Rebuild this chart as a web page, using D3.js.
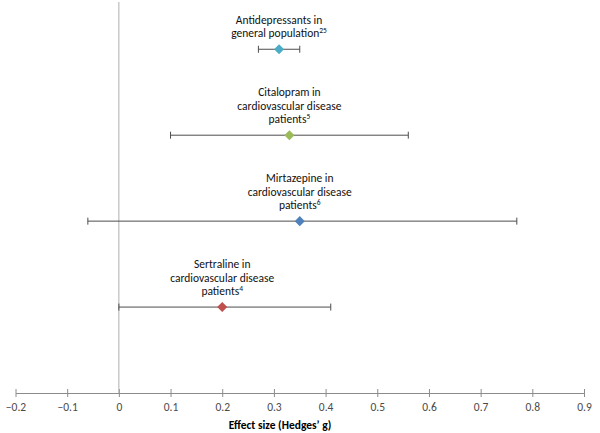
<!DOCTYPE html>
<html><head><meta charset="utf-8">
<script src="https://cdn.jsdelivr.net/npm/d3@7"></script>
<style>body{margin:0;background:#fff}svg{display:block}</style>
</head><body><svg id="c" width="600" height="433"></svg>
<script>
const labels = [
  ["Antidepressants in", "general population", "25"],
  ["Citalopram in", "cardiovascular disease", "patients", "5"],
  ["Mirtazepine in", "cardiovascular disease", "patients", "6"],
  ["Sertraline in", "cardiovascular disease", "patients", "4"]
];
const effect = [0.31, 0.33, 0.35, 0.20];
const lower = [0.27, 0.10, -0.06, 0.00];
const upper = [0.35, 0.56, 0.77, 0.41];
const rowY = [4, 3, 2, 1];
const colors = ["#4BACC6", "#9BBB59", "#4F81BD", "#C0504D"];
const xTicks = [-0.2, -0.1, 0, 0.1, 0.2, 0.3, 0.4, 0.5, 0.6, 0.7, 0.8, 0.9];
const xTitle = "Effect size (Hedges\u2019 g)";

const svg = d3.select("#c");
const font = "Carlito, Calibri, 'Open Sans', sans-serif";
const x = d3.scaleLinear().domain([-0.2, 0.9]).range([15.5, 584]);
const y = d3.scaleLinear().domain([0, 4.55]).range([393, 2]);

// x axis
const ax = svg.append("g").attr("transform", `translate(0,${y(0)})`)
  .call(d3.axisBottom(x).tickValues(xTicks).tickSize(4).tickSizeOuter(0)
    .tickFormat(d => d === 0 ? "0" : d3.format(".1f")(d)));
ax.select(".domain").attr("stroke", "#8c8c8c");
ax.selectAll(".tick line").attr("stroke", "#8c8c8c").attr("y1", -4).attr("y2", 4);
ax.selectAll(".tick text").attr("y", 10).attr("fill", "#4a4a4a")
  .style("font-family", font).style("font-size", "11.5px");

// vertical line at 0
svg.append("line").attr("x1", x(0)).attr("x2", x(0)).attr("y1", y(4.55)).attr("y2", y(0))
  .attr("stroke", "#b0b0b0").attr("stroke-width", 1);

// title
svg.append("text").attr("x", 280).attr("y", 429).attr("text-anchor", "middle")
  .style("font-family", font).style("font-size", "11.5px").style("font-weight", "bold")
  .attr("fill", "#000").text(xTitle);

// error bars and markers
const g = svg.append("g");
effect.forEach((e, i) => {
  const yy = y(rowY[i]);
  g.append("line").attr("x1", x(lower[i])).attr("x2", x(upper[i])).attr("y1", yy).attr("y2", yy)
    .attr("stroke", "#4d4d4d").attr("stroke-width", 1);
  [lower[i], upper[i]].forEach(v => {
    g.append("line").attr("x1", x(v)).attr("x2", x(v)).attr("y1", yy - 3.5).attr("y2", yy + 3.5)
      .attr("stroke", "#4d4d4d").attr("stroke-width", 1);
  });
  g.append("path").attr("d", d3.symbol(d3.symbolDiamond2 || d3.symbolDiamond, 64)())
    .attr("transform", `translate(${x(e)},${yy})`)
    .attr("fill", colors[i]);
  // labels
  const lab = labels[i];
  const nLines = lab.length - 1;
  const t = g.append("text").attr("text-anchor", "middle")
    .style("font-family", font).style("font-size", "11.5px").attr("fill", "#111");
  for (let k = 0; k < nLines; k++) {
    const ly = yy - 12 - (nLines - 1 - k) * 13.5;
    const ts = t.append("tspan").attr("x", x(e)).attr("y", ly).text(lab[k]);
    if (k === nLines - 1) {
      ts.append("tspan").attr("dy", -4).style("font-size", "7.5px").text(lab[lab.length - 1]);
    }
  }
});
</script></body></html>
